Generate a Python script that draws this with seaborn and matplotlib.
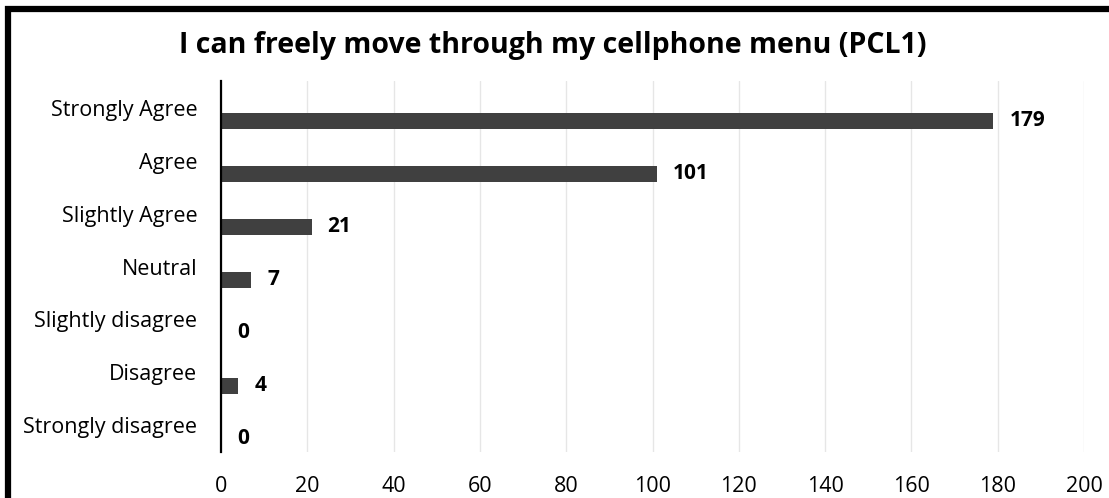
import pandas as pd
import matplotlib.pyplot as plt
import seaborn as sns
from matplotlib.patches import Rectangle

# 数据
categories = ["Strongly Agree", "Agree", "Slightly Agree", "Neutral",
              "Slightly disagree", "Disagree", "Strongly disagree"]
counts = [179, 101, 21, 7, 0, 4, 0]
title = "I can freely move through my cellphone menu (PCL1)"
x_ticks = [0, 20, 40, 60, 80, 100, 120, 140, 160, 180, 200]

# Excel 风格：一个空系列 + 一个实际系列，实际柱子偏到下半格
df = pd.DataFrame({
    "category": categories * 2,
    "series": ["blank"] * len(categories) + ["count"] * len(categories),
    "value": [0] * len(categories) + counts,
})

sns.set_theme(style="white")
plt.rcParams["font.family"] = ["Open Sans", "DejaVu Sans"]

fig = plt.figure(figsize=(11.09, 4.98), dpi=100)
ax = fig.add_axes([0.1993, 0.0924, 0.7782, 0.7449])

sns.barplot(data=df, y="category", x="value", hue="series",
            hue_order=["blank", "count"], order=categories,
            palette={"blank": "#404040", "count": "#404040"},
            orient="h", dodge=True, width=1.0, gap=0.4,
            linewidth=0, legend=False, ax=ax)

# 数值标签
for cont in ax.containers[1:]:
    ax.bar_label(cont, labels=[str(v) for v in counts], padding=11.5,
                 fontsize=15, fontweight="bold", color="black")

ax.set_xlim(0, 200)
ax.set_ylim(len(categories) - 0.5, -0.5)
ax.set_xticks(x_ticks)
ax.set_xticklabels([str(t) for t in x_ticks], fontsize=15.5, color="black")
ax.tick_params(axis="x", length=0, pad=17)
ax.tick_params(axis="y", length=0, pad=17, labelsize=15.5, labelcolor="black")
ax.set_xlabel("")
ax.set_ylabel("")

ax.grid(axis="x", color="#e6e6e6", linewidth=1)
ax.set_axisbelow(True)
for s in ["top", "right", "bottom"]:
    ax.spines[s].set_visible(False)
ax.spines["left"].set_color("black")
ax.spines["left"].set_linewidth(1.6)

fig.text(0.498, 0.908, title, ha="center", va="center",
         fontsize=20.5, fontweight="bold", color="black")

# 外框
fig.patches.append(Rectangle((8 / 1109, -0.1), 1.2, 1.1 - 9 / 498,
                             transform=fig.transFigure, fill=False,
                             edgecolor="black", linewidth=4.5))

fig.savefig("out.png", dpi=100)
